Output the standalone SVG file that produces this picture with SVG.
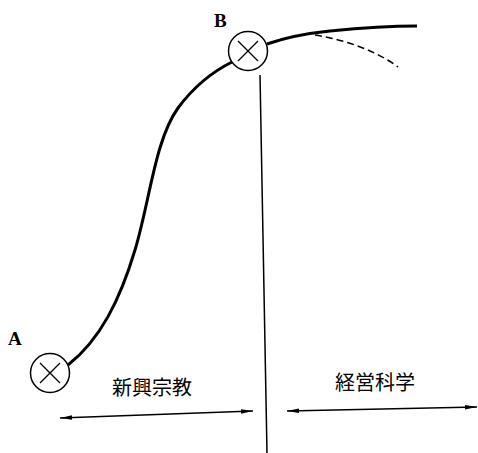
<svg xmlns="http://www.w3.org/2000/svg" width="478" height="453" viewBox="0 0 478 453">
<style>
.node circle{fill:#fff;stroke:#000;stroke-width:1.5}
.node path{stroke:#000;stroke-width:1.3;fill:none}
.lbl{font-family:"Liberation Serif",serif;font-size:19px;font-weight:bold}
.jp{font-family:"Noto Sans CJK JP","Noto Sans CJK SC",serif;font-size:20px}
.curve{fill:none;stroke:#000;stroke-width:3}
.thin{fill:none;stroke:#000;stroke-width:1.5}
</style>
<defs>
<marker id="ah" viewBox="0 0 12 6" refX="12" refY="3" markerWidth="12" markerHeight="6" markerUnits="userSpaceOnUse" orient="auto-start-reverse">
<path d="M0,0.8 L12,3 L0,5.2 Z" fill="#000"/>
</marker>
</defs>
<g id="connectors">
<path class="curve" d="M68,365 C100,340 120,300 135,250 C150,200 155,140 178,108 C195,85 212,72 232,62"/>
<path class="curve" d="M267,44 C290,36 310,33 330,31 C360,28 390,26 417,26"/>
<path class="thin" stroke-dasharray="7,4" d="M315,35 C345,40 375,50 398,67"/>
<path class="thin" d="M260,75 L267,453"/>
<path class="thin" marker-start="url(#ah)" marker-end="url(#ah)" d="M60,418 L253,411"/>
<path class="thin" marker-start="url(#ah)" marker-end="url(#ah)" d="M287,411 L477,407"/>
</g>
<g id="nodeA" class="node">
<circle cx="50" cy="373" r="19.5"/>
<path d="M40,363 L60,383 M60,363 L40,383"/>
<text class="lbl" x="8" y="345">A</text>
</g>
<g id="nodeB" class="node">
<circle cx="248" cy="51" r="19.5"/>
<path d="M238,41 L258,61 M258,41 L238,61"/>
<text class="lbl" x="214" y="27">B</text>
</g>
<g id="label-left">
<text class="jp" x="152" y="395" text-anchor="middle">新興宗教</text>
</g>
<g id="label-right">
<text class="jp" x="375" y="390" text-anchor="middle">経営科学</text>
</g>
</svg>
